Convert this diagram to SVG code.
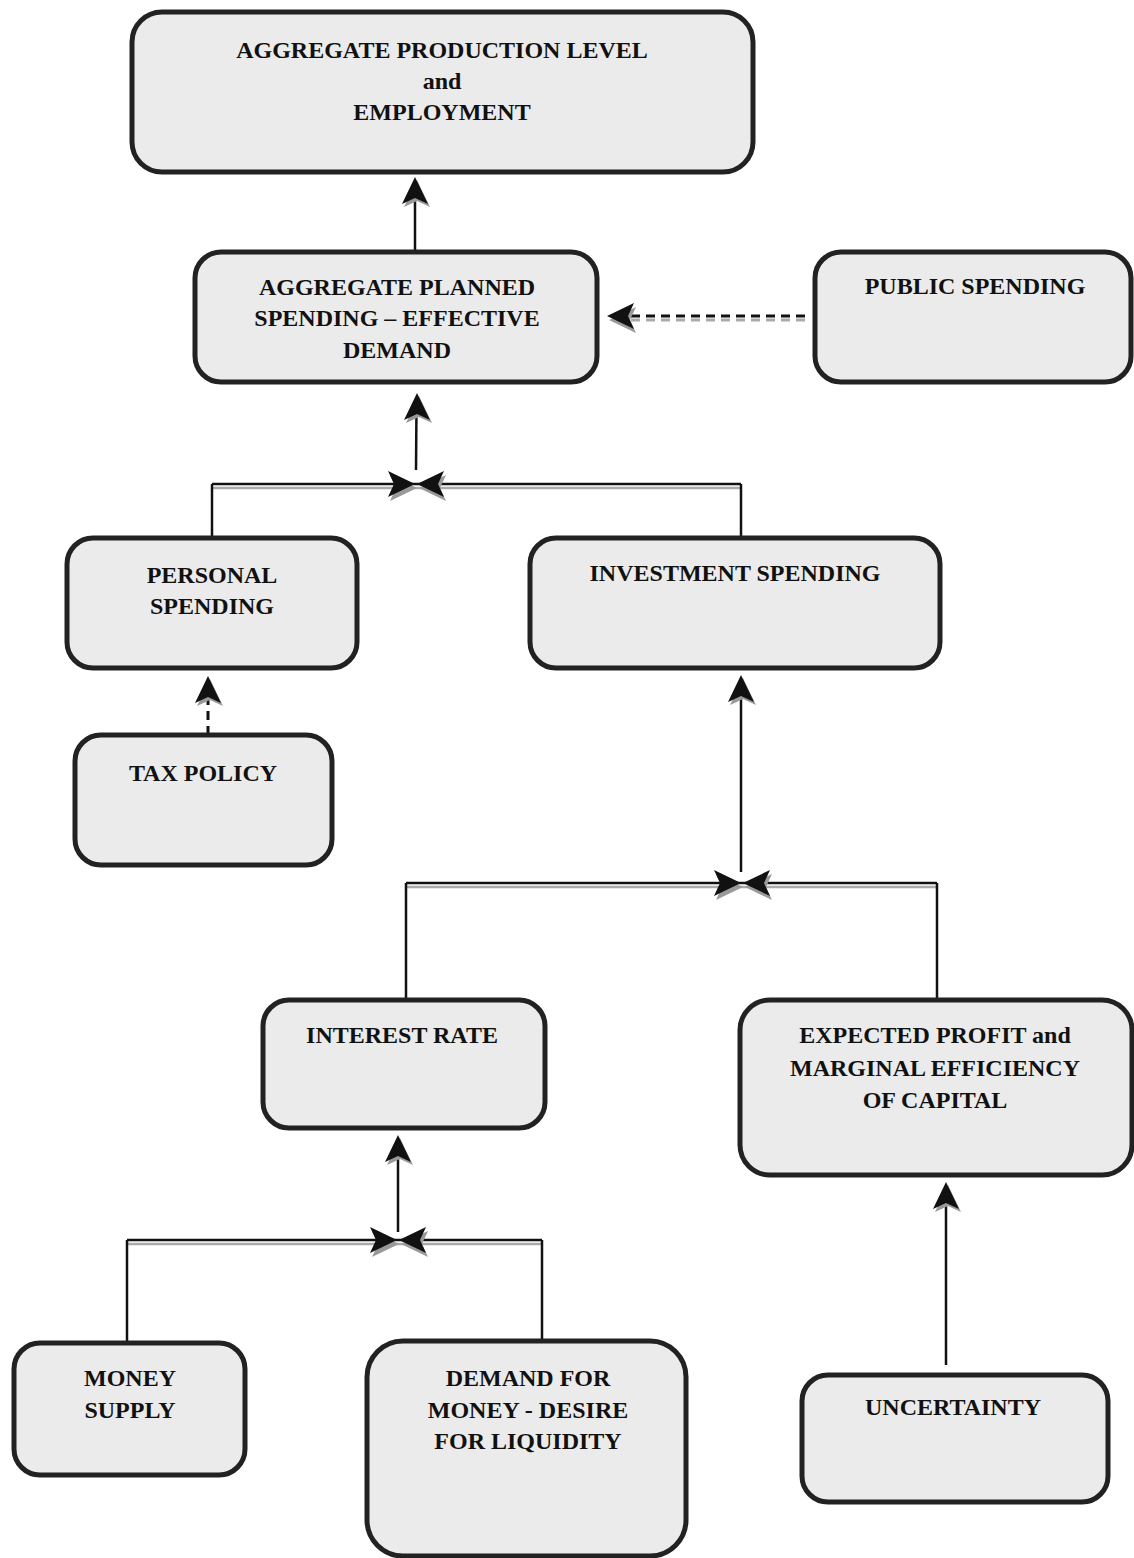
<svg xmlns="http://www.w3.org/2000/svg" xmlns:xlink="http://www.w3.org/1999/xlink" width="1134" height="1558" viewBox="0 0 1134 1558">
<style>
.box{fill:#ebebeb;stroke:#222;stroke-width:5}
.t{font-family:"Liberation Serif","DejaVu Serif",serif;font-weight:bold;font-size:24px;fill:#111;text-anchor:middle}
.ln{stroke:#111;stroke-width:2.5;fill:none}
.sh{stroke:#aaa;stroke-width:2.5;fill:none}
.dl{stroke:#111;stroke-width:3;fill:none;stroke-dasharray:9 6}
.ds{stroke:#aaa;stroke-width:3;fill:none;stroke-dasharray:9 6}
.ahb{fill:#111}
.ahs{fill:#999}
</style>
<defs>
<path id="ah" d="M0,0 L13,27 L0,21 L-13,27 Z"/>
</defs>
<rect width="1134" height="1558" fill="#fff"/>

<g id="connectors">
  <line class="ln" x1="415" y1="250" x2="415" y2="190"/>
  <use href="#ah" class="ahs" transform="translate(417,180)"/>
  <use href="#ah" class="ahb" transform="translate(415,177)"/>
  <line class="ds" x1="805" y1="320" x2="625" y2="320"/>
  <line class="dl" x1="805" y1="316" x2="625" y2="316"/>
  <use href="#ah" class="ahs" transform="translate(609,320) rotate(-90)"/>
  <use href="#ah" class="ahb" transform="translate(607,316) rotate(-90)"/>
  <line class="ln" x1="416" y1="470" x2="416.5" y2="405"/>
  <use href="#ah" class="ahs" transform="translate(419,396)"/>
  <use href="#ah" class="ahb" transform="translate(417,393)"/>
  <line class="sh" x1="212" y1="488" x2="741" y2="488"/>
  <line class="ln" x1="212" y1="484" x2="741" y2="484"/>
  <line class="ln" x1="212" y1="484" x2="212" y2="538"/>
  <line class="ln" x1="741" y1="484" x2="741" y2="538"/>
  <use href="#ah" class="ahs" transform="translate(417,488) rotate(90)"/>
  <use href="#ah" class="ahb" transform="translate(415,484) rotate(90)"/>
  <use href="#ah" class="ahs" transform="translate(419,488) rotate(-90)"/>
  <use href="#ah" class="ahb" transform="translate(417,484) rotate(-90)"/>
  <line class="dl" x1="208" y1="735" x2="208" y2="690"/>
  <use href="#ah" class="ahs" transform="translate(210,679)"/>
  <use href="#ah" class="ahb" transform="translate(208,676)"/>
  <line class="ln" x1="741" y1="872" x2="741" y2="688"/>
  <use href="#ah" class="ahs" transform="translate(743,678)"/>
  <use href="#ah" class="ahb" transform="translate(741,675)"/>
  <line class="sh" x1="406" y1="887" x2="937" y2="887"/>
  <line class="ln" x1="406" y1="883" x2="937" y2="883"/>
  <line class="ln" x1="406" y1="883" x2="406" y2="1000"/>
  <line class="ln" x1="937" y1="883" x2="937" y2="1000"/>
  <use href="#ah" class="ahs" transform="translate(743,887) rotate(90)"/>
  <use href="#ah" class="ahb" transform="translate(741,883) rotate(90)"/>
  <use href="#ah" class="ahs" transform="translate(745,887) rotate(-90)"/>
  <use href="#ah" class="ahb" transform="translate(743,883) rotate(-90)"/>
  <line class="ln" x1="398" y1="1232" x2="398" y2="1148"/>
  <use href="#ah" class="ahs" transform="translate(400,1138)"/>
  <use href="#ah" class="ahb" transform="translate(398,1135)"/>
  <line class="sh" x1="127" y1="1244" x2="542" y2="1244"/>
  <line class="ln" x1="127" y1="1240" x2="542" y2="1240"/>
  <line class="ln" x1="127" y1="1240" x2="127" y2="1343"/>
  <line class="ln" x1="542" y1="1240" x2="542" y2="1341"/>
  <use href="#ah" class="ahs" transform="translate(399,1244) rotate(90)"/>
  <use href="#ah" class="ahb" transform="translate(397,1240) rotate(90)"/>
  <use href="#ah" class="ahs" transform="translate(401,1244) rotate(-90)"/>
  <use href="#ah" class="ahb" transform="translate(399,1240) rotate(-90)"/>
  <line class="ln" x1="946" y1="1365" x2="946" y2="1195"/>
  <use href="#ah" class="ahs" transform="translate(948,1185)"/>
  <use href="#ah" class="ahb" transform="translate(946,1182)"/>
</g>

<g id="n-production">
  <rect class="box" x="132" y="12" width="621" height="160" rx="30"/>
  <text class="t" x="442" y="58">AGGREGATE PRODUCTION LEVEL</text>
  <text class="t" x="442" y="89">and</text>
  <text class="t" x="442" y="120">EMPLOYMENT</text>
</g>
<g id="n-planned">
  <rect class="box" x="195" y="252" width="402" height="130" rx="26"/>
  <text class="t" x="397" y="295">AGGREGATE PLANNED</text>
  <text class="t" x="397" y="326">SPENDING – EFFECTIVE</text>
  <text class="t" x="397" y="358">DEMAND</text>
</g>
<g id="n-public">
  <rect class="box" x="815" y="252" width="316" height="130" rx="26"/>
  <text class="t" x="975" y="294">PUBLIC SPENDING</text>
</g>
<g id="n-personal">
  <rect class="box" x="67" y="538" width="290" height="130" rx="26"/>
  <text class="t" x="212" y="583">PERSONAL</text>
  <text class="t" x="212" y="614">SPENDING</text>
</g>
<g id="n-investment">
  <rect class="box" x="530" y="538" width="410" height="130" rx="26"/>
  <text class="t" x="735" y="581">INVESTMENT SPENDING</text>
</g>
<g id="n-tax">
  <rect class="box" x="75" y="735" width="257" height="130" rx="26"/>
  <text class="t" x="203" y="781">TAX POLICY</text>
</g>
<g id="n-interest">
  <rect class="box" x="263" y="1000" width="282" height="128" rx="26"/>
  <text class="t" x="402" y="1043">INTEREST RATE</text>
</g>
<g id="n-profit">
  <rect class="box" x="740" y="1000" width="392" height="175" rx="30"/>
  <text class="t" x="935" y="1043">EXPECTED PROFIT and</text>
  <text class="t" x="935" y="1076">MARGINAL EFFICIENCY</text>
  <text class="t" x="935" y="1108">OF CAPITAL</text>
</g>
<g id="n-money-supply">
  <rect class="box" x="14" y="1343" width="231" height="132" rx="26"/>
  <text class="t" x="130" y="1386">MONEY</text>
  <text class="t" x="130" y="1418">SUPPLY</text>
</g>
<g id="n-demand">
  <rect class="box" x="367" y="1341" width="319" height="215" rx="36"/>
  <text class="t" x="528" y="1386">DEMAND FOR</text>
  <text class="t" x="528" y="1418">MONEY - DESIRE</text>
  <text class="t" x="528" y="1449">FOR LIQUIDITY</text>
</g>
<g id="n-uncertainty">
  <rect class="box" x="802" y="1375" width="306" height="127" rx="26"/>
  <text class="t" x="953" y="1415">UNCERTAINTY</text>
</g>
</svg>
